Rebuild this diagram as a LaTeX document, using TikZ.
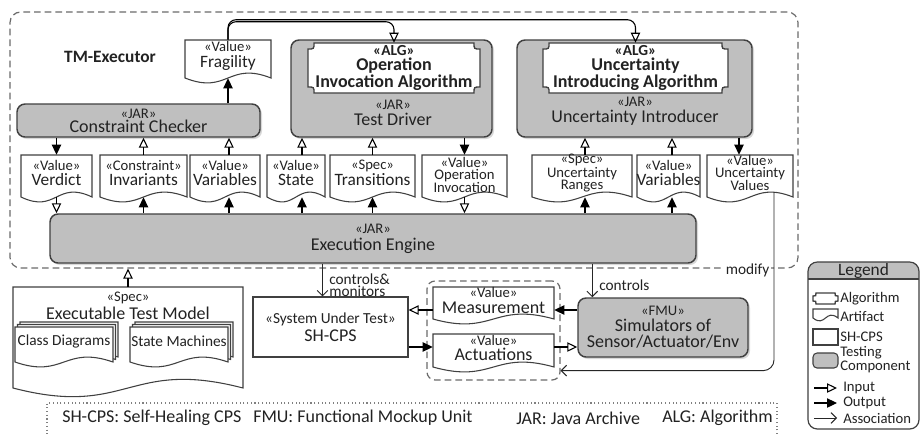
\documentclass[tikz,border=0pt]{standalone}
\usepackage{fontspec}
\setmainfont{Carlito}
\usetikzlibrary{arrows.meta,calc,shadows}
\definecolor{boxgray}{HTML}{BFBFBF}
\definecolor{linegray}{HTML}{404040}
\definecolor{dashgray}{HTML}{6A6A6A}
\definecolor{txt}{HTML}{222222}
\newcommand\stfont{\fontsize{11}{10.5}\selectfont}
\newcommand\docfont{\fontsize{13}{10.75}\selectfont}
\newcommand\boxfont{\fontsize{13.5}{10.5}\selectfont}
\newcommand\smfont{\fontsize{11}{9}\selectfont}
\newcommand\legfont{\fontsize{11}{8.75}\selectfont}
\newcommand\fnfont{\fontsize{13.5}{13.5}\selectfont}
\newcommand\algfont{\bfseries\fontsize{13.5}{10.75}\selectfont}
\tikzset{
  gbox/.style={draw=linegray, line width=1.1pt, fill=boxgray, rounded corners=6pt, inner sep=0pt, align=center, text=txt, font=\boxfont, drop shadow={shadow xshift=1.5pt,shadow yshift=-1.5pt,opacity=0.3}},
  docline/.style={draw=linegray, line width=0.8pt, fill=white},
  algline/.style={draw=linegray, line width=1pt, fill=white},
  doctext/.style={inner sep=0pt, align=center, text=txt, font=\docfont},
  inarr/.style={draw=black, line width=0.8pt, -{Triangle[open,length=7.5pt,width=7pt]}},
  outarr/.style={draw=black, line width=0.8pt, -{Triangle[length=7.5pt,width=7pt]}},
  assoc/.style={draw=black!85, line width=0.7pt, -{Straight Barb[length=4pt,width=8pt]}},
  dashbox/.style={draw=dashgray, dash pattern=on 5pt off 3pt, line width=0.9pt, inner sep=0pt},
  plaintext/.style={inner sep=0pt, text=txt},
}
\newcommand\docpath[5]{\draw[docline] (#1,#4) .. controls ({(#1+#3)/2},{#4+#5}) and ({(#1+#3)/2},{#4-#5}) .. (#3,#4) -- (#3,#2) -- (#1,#2) -- cycle;}
\newcommand\docshape[8][]{%
  \docpath{#3}{#4}{#5}{#6}{#7}
  \node[inner sep=0pt, minimum width={(#5-#3)*0.75pt}, minimum height={(#6-#4)*0.75pt}] (#2) at ({(#3+#5)/2},{(#4+#6)/2}) {};
  \node[doctext,#1] (#2t) at ($(#2)+(0,-3)$) {#8};
}
\newcommand\algpath[5]{\draw[algline] ({#1+#5},#2) -- ({#3-#5},#2) .. controls ({#3-#5},{#2+#5}) .. (#3,{#2+#5}) -- (#3,{#4-#5}) .. controls ({#3-#5},{#4-#5}) .. ({#3-#5},#4) -- ({#1+#5},#4) .. controls ({#1+#5},{#4-#5}) .. (#1,{#4-#5}) -- (#1,{#2+#5}) .. controls ({#1+#5},{#2+#5}) .. ({#1+#5},#2) -- cycle;}
\begin{document}
\begin{tikzpicture}[x=0.75pt,y=-0.75pt]
\useasboundingbox (0,0) rectangle (923,433);
\fill[white] (0,0) rectangle (923,433);

% container
\node[dashbox, rounded corners=8pt, minimum width={788*0.75pt}, minimum height={256*0.75pt}] (tmx) at (404,140) {};
\node[plaintext, font=\bfseries\fontsize{13}{13}\selectfont] (tmxlabel) at (110,57) {TM-Executor};

% gray components
\node[gbox, minimum width={243*0.75pt}, minimum height={33*0.75pt}] (cc) at (138.5,120.5) {{\stfont «JAR»}\\Constraint Checker};
\node[gbox, minimum width={201*0.75pt}, minimum height={97*0.75pt}] (td) at (391.5,88.5) {};
\node[gbox, minimum width={235*0.75pt}, minimum height={97*0.75pt}] (ui) at (634.5,88.5) {};
\node[gbox, minimum width={646*0.75pt}, minimum height={49*0.75pt}] (ee) at (373,238.5) {{\stfont «JAR»}\\[2.25pt]Execution Engine};

% algorithm boxes
\algpath{308}{43}{480}{93}{6}
\node[inner sep=0pt, minimum width={172*0.75pt}, minimum height={50*0.75pt}, align=center, font=\algfont, text=txt] (tdalg) at (394,68) {{\fontsize{11.5}{10.75}\selectfont «ALG»}\\Operation\\Invocation Algorithm};
\algpath{543}{43}{728}{93}{6}
\node[inner sep=0pt, minimum width={185*0.75pt}, minimum height={50*0.75pt}, align=center, font=\algfont, text=txt] (uialg) at (635.5,68) {{\fontsize{11.5}{10.75}\selectfont «ALG»}\\Uncertainty\\Introducing Algorithm};
\node[plaintext, align=center, font=\boxfont] (tdlabel) at (393,113) {{\stfont «JAR»}\\[1.5pt]Test Driver};
\node[plaintext, align=center, font=\boxfont] (uilabel) at (635,111) {{\stfont «JAR»}\\[1.5pt]Uncertainty Introducer};

% artifacts
\docshape{frag}{185}{40}{271}{78}{17}{{\stfont «Value»}\\[1.25pt]Fragility}
\docshape{verdict}{21}{155}{92}{197}{17}{{\stfont «Value»}\\Verdict}
\docshape{invariants}{100}{155}{187}{197}{17}{{\stfont «Constraint»}\\Invariants}
\docshape{variables}{190}{155}{260}{197}{17}{{\stfont «Value»}\\Variables}
\docshape{state}{267}{155}{325}{197}{17}{{\stfont «Value»}\\State}
\docshape{transitions}{330}{155}{415}{197}{17}{{\stfont «Spec»}\\Transitions}
\docshape[font=\smfont, yshift=-1.5pt]{opinv}{422}{155}{507}{197}{17}{«Value»\\Operation\\Invocation}
\docshape[font=\smfont]{ranges}{532}{155}{632}{197}{17}{«Spec»\\Uncertainty\\Ranges}
\docshape{varstwo}{637}{155}{700}{197}{17}{{\stfont «Value»}\\Variables}
\docshape[font=\smfont]{uval}{707}{155}{793}{197}{17}{«Value»\\Uncertainty\\Values}

% lower part
\node[draw=linegray, line width=0.9pt, fill=white, inner sep=0pt, align=center, text=txt, font=\boxfont, minimum width={155*0.75pt}, minimum height={60*0.75pt}] (sut) at (330.5,327) {{\fontsize{11.5}{10}\selectfont «System Under Test»}\\[1.5pt]SH-CPS};
\node[gbox, minimum width={170*0.75pt}, minimum height={59*0.75pt}] (sim) at (663,327.5) {{\stfont «FMU»}\\[1.5pt]Simulators of\\[1.5pt]Sensor/Actuator/Env};
\node[dashbox, rounded corners=6pt, minimum width={133*0.75pt}, minimum height={99*0.75pt}] (grp) at (493.5,330.5) {};
\docshape[font=\fontsize{13.5}{10.75}\selectfont]{meas}{433}{287}{554}{319}{17}{{\stfont «Value»}\\[1.25pt]Measurement}
\docshape[font=\fontsize{13.5}{10.75}\selectfont]{act}{433}{334}{554}{367}{17}{{\stfont «Value»}\\[0.5pt]Actuations}

% executable test model
\docshape[font=\fontsize{13.5}{10.75}\selectfont, yshift=21.75pt]{etm}{13}{287}{243}{388}{30}{{\stfont «Spec»}\\[1.25pt]Executable Test Model}
\docpath{20}{322}{118}{357}{17}
\docpath{17.5}{324.5}{115.5}{359.5}{17}
\docshape[font=\fontsize{11.5}{10}\selectfont]{cd}{15}{327}{113}{362}{17}{Class Diagrams}
\docpath{135}{322}{233}{357}{17}
\docpath{132.5}{324.5}{230.5}{359.5}{17}
\docshape[font=\fontsize{11.5}{10}\selectfont]{sm}{130}{327}{228}{362}{17}{State Machines}

% legend
\begin{scope}
  \clip[rounded corners=7pt] (808,262) rectangle (919,429);
  \fill[boxgray] (808,262) rectangle (919,279);
\end{scope}
\node[draw=linegray, line width=0.9pt, rounded corners=7pt, inner sep=0pt, minimum width={111*0.75pt}, minimum height={167*0.75pt}] (leg) at (863.5,345.5) {};
\draw[linegray, line width=0.8pt] (808,279) -- (919,279);
\node[plaintext, font=\fontsize{13}{13}\selectfont] (legt) at (863.5,270.5) {Legend};
\algpath{813}{293}{838}{304}{3}
\docpath{813}{309}{838}{318}{10}
\draw[linegray, line width=0.8pt] (813,329) rectangle (838,345);
\draw[linegray, line width=0.8pt, fill=boxgray, rounded corners=3pt] (813,353) rectangle (838,368);
\draw[inarr] (814,388) -- (837,388);
\draw[outarr] (814,403) -- (837,403);
\draw[assoc] (814,418) -- (837,418);
\node[plaintext, anchor=west, font=\legfont] (lg1) at (840,298.5) {Algorithm};
\node[plaintext, anchor=west, font=\legfont] (lg2) at (840,316) {Artifact};
\node[plaintext, anchor=west, font=\legfont] (lg3) at (840,337) {SH-CPS};
\node[plaintext, anchor=west, align=left, font=\legfont] (lg4) at (840,359.5) {Testing\\Component};
\node[plaintext, anchor=west, font=\legfont] (lg5) at (843,388) {Input};
\node[plaintext, anchor=west, font=\legfont] (lg6) at (843,403) {Output};
\node[plaintext, anchor=west, font=\legfont] (lg7) at (843,418) {Association};

% footnote
\node[draw=gray, dotted, line width=0.8pt, inner sep=0pt, minimum width={730*0.75pt}, minimum height={44*0.75pt}] (fnbox) at (412,425) {};
\node[plaintext, anchor=west, font=\fnfont] (fn1) at (62,418) {SH-CPS: Self-Healing CPS};
\node[plaintext, anchor=west, font=\fnfont] (fn2) at (253,418) {FMU: Functional Mockup Unit};
\node[plaintext, anchor=west, font=\fnfont] (fn3) at (516,418) {JAR: Java Archive};
\node[plaintext, anchor=west, font=\fnfont] (fn4) at (662,418) {ALG: Algorithm};

% arrow anchor points
\coordinate (varN) at ($(variables.north)+(4,0)$);
\coordinate (varS) at ($(variables.south)+(4,0)$);
\coordinate (stN) at ($(state.north)+(6,0)$);
\coordinate (stS) at ($(state.south)+(6,0)$);
\coordinate (raN) at ($(ranges.north)+(3,0)$);
\coordinate (raS) at ($(ranges.south)+(3,0)$);
\coordinate (v2N) at ($(varstwo.north)+(3.5,0)$);
\coordinate (v2S) at ($(varstwo.south)+(3.5,0)$);
\coordinate (uvin) at ($(uval.north)+(-11,0)$);

% connectors: top
\draw[inarr, rounded corners=6pt] (frag.north) -- ++(0,-18) -| (tdalg.north);
\draw[inarr, rounded corners=6pt] (frag.north) -- ++(0,-20) -| (uialg.north);
\draw[outarr] (cc.north -| frag) -- (frag.south);
\draw[outarr] (cc.south -| verdict) -- (verdict.north);
\draw[inarr] (invariants.north) -- (cc.south -| invariants);
\draw[inarr] (varN) -- (cc.south -| varN);
\draw[inarr] (stN) -- (td.south -| stN);
\draw[inarr] (transitions.north) -- (td.south -| transitions);
\draw[outarr] (td.south -| opinv) -- (opinv.north);
\draw[inarr] (raN) -- (ui.south -| raN);
\draw[inarr] (v2N) -- (ui.south -| v2N);
\draw[outarr] (ui.south -| uvin) -- (uvin);

% connectors: engine
\draw[inarr] (verdict.south) -- (ee.north -| verdict);
\draw[outarr] (ee.north -| invariants) -- (invariants.south);
\draw[outarr] (ee.north -| varS) -- (varS);
\draw[outarr] (ee.north -| stS) -- (stS);
\draw[outarr] (ee.north -| transitions) -- (transitions.south);
\draw[inarr] (opinv.south) -- (ee.north -| opinv);
\draw[outarr] (ee.north -| raS) -- (raS);
\draw[outarr] (ee.north -| v2S) -- (v2S);
\draw[inarr] (etm.north) -- (etm.north |- tmx.south);

% connectors: lower
\coordinate (cm) at ($(sut.north)+(-8,0)$);
\draw[assoc] (ee.south -| cm) -- (cm);
\node[plaintext, anchor=west, align=left, font=\fontsize{11.5}{9.25}\selectfont] (cmlabel) at (329,285) {controls\&\\monitors};
\coordinate (ct) at ($(sim.north west)+(15,0)$);
\draw[assoc] (ee.south -| ct) -- (ct);
\node[plaintext, anchor=west, font=\fontsize{11.5}{9}\selectfont] (ctlabel) at (599,285) {controls};
\coordinate (m1) at ($(meas.west)+(0,7)$);
\draw[inarr] (m1) -- (m1 -| sut.east);
\coordinate (a1) at ($(act.west)+(0,-3.5)$);
\draw[outarr] (a1 -| sut.east) -- (a1);
\coordinate (m2) at ($(meas.east)+(0,7)$);
\draw[outarr] (m2 -| sim.west) -- (m2);
\coordinate (a2) at ($(act.east)+(0,-3.5)$);
\draw[inarr] (a2) -- (a2 -| sim.west);
\coordinate (mv) at ($(uval.south)+(24,-5)$);
\draw[assoc, rounded corners=8pt] (mv) |- ($(grp.south east)+(0,-10)$);
\node[plaintext, fill=white, inner xsep=1pt, anchor=east, font=\fontsize{11.5}{9}\selectfont] (modlbl) at (771,270) {modify};
\end{tikzpicture}
\end{document}
